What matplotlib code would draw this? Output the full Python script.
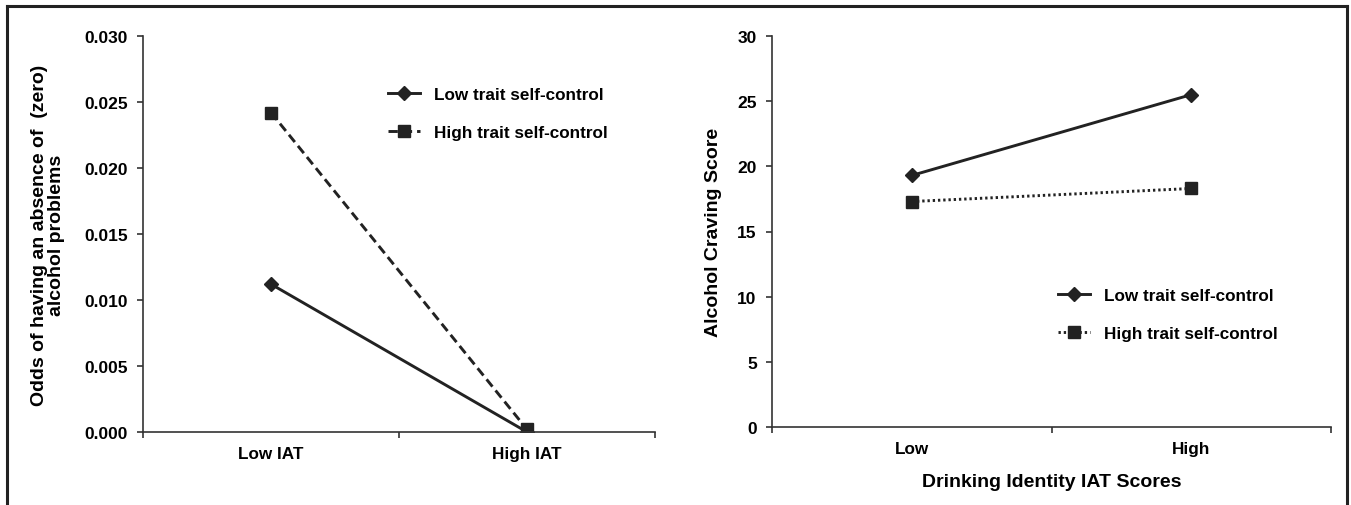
import matplotlib.pyplot as plt
from matplotlib.lines import Line2D

plt.rcParams['font.family'] = ['Liberation Sans', 'DejaVu Sans']
plt.rcParams['font.weight'] = 'bold'
plt.rcParams['axes.labelweight'] = 'bold'
plt.rcParams['font.size'] = 12.3

# Left panel data
left_categories = ['Low IAT', 'High IAT']
left_low_sc = [0.0112, 0.0000]
left_high_sc = [0.0242, 0.0002]
left_yticks = [0.000, 0.005, 0.010, 0.015, 0.020, 0.025, 0.030]

# Right panel data
right_categories = ['Low', 'High']
right_low_sc = [19.3, 25.5]
right_high_sc = [17.3, 18.3]
right_yticks = [0, 5, 10, 15, 20, 25, 30]

series_labels = ['Low trait self-control', 'High trait self-control']

W, H = 1351, 506
fig = plt.figure(figsize=(W / 100, H / 100), dpi=100)

# outer frame (top, left, right only)
frame = dict(color='#222222', lw=2.2, transform=fig.transFigure)
fig.add_artist(Line2D([7/W, 1347/W], [1 - 7/H, 1 - 7/H], **frame))
fig.add_artist(Line2D([7/W, 7/W], [0, 1 - 7/H], **frame))
fig.add_artist(Line2D([1347/W, 1347/W], [0, 1 - 7/H], **frame))

ax1 = fig.add_axes([143/W, 1 - 433/H, 512/W, 396/H])
ax2 = fig.add_axes([772/W, 1 - 428/H, 559/W, 391/H])


def style_axes(ax, cats, yticks):
    xpos = [0.5, 1.5]
    ax.set_xlim(0, 2)
    ax.set_ylim(yticks[0], yticks[-1])
    for s in ['top', 'right']:
        ax.spines[s].set_visible(False)
    for s in ['left', 'bottom']:
        ax.spines[s].set_color('#333333')
        ax.spines[s].set_linewidth(1.2)
    ax.set_yticks(yticks)
    ax.set_xticks([0, 1, 2])
    ax.set_xticklabels([])
    ax.set_xticks(xpos, minor=True)
    ax.set_xticklabels(cats, minor=True)
    ax.tick_params(axis='x', which='minor', length=0, pad=10, labelsize=12.3)
    ax.tick_params(axis='x', which='major', direction='out', length=4.5, width=1.2, color='#333333')
    ax.tick_params(axis='y', direction='out', length=4.5, width=1.2, color='#333333', pad=6.5,
                   labelsize=12.5)
    return xpos


def place_legend(ax, x_px, y_px):
    ax.legend(loc='center left', bbox_to_anchor=(x_px / W, 1 - y_px / H),
              bbox_transform=fig.transFigure, frameon=False, handlelength=1.9,
              labelspacing=1.3, handletextpad=0.8, borderpad=0, borderaxespad=0,
              fontsize=12.3)


x1 = style_axes(ax1, left_categories, left_yticks)
ax1.set_yticklabels([f'{v:.3f}' for v in left_yticks])
ax1.plot(x1, left_low_sc, color='#222222', lw=2.1, marker='D', markersize=7,
         label=series_labels[0])
ax1.plot(x1, left_high_sc, color='#222222', lw=2.1, ls=(0, (3.2, 1.7)), marker='s', markersize=8,
         label=series_labels[1])
ax1.set_ylabel('Odds of having an absence of  (zero)\nalcohol problems', fontsize=14,
               labelpad=14, linespacing=0.95)
place_legend(ax1, 388, 114.5)

x2 = style_axes(ax2, right_categories, right_yticks)
ax2.plot(x2, right_low_sc, color='#222222', lw=2.1, marker='D', markersize=7,
         label=series_labels[0])
ax2.plot(x2, right_high_sc, color='#222222', lw=2.1, ls=(0, (0.8, 1.0)), marker='s', markersize=8,
         label=series_labels[1])
ax2.set_ylabel('Alcohol Craving Score', fontsize=14, labelpad=11)
ax2.set_xlabel('Drinking Identity IAT Scores', fontsize=14, labelpad=12)
place_legend(ax2, 1058, 315.5)

fig.savefig('out.png', dpi=100)
